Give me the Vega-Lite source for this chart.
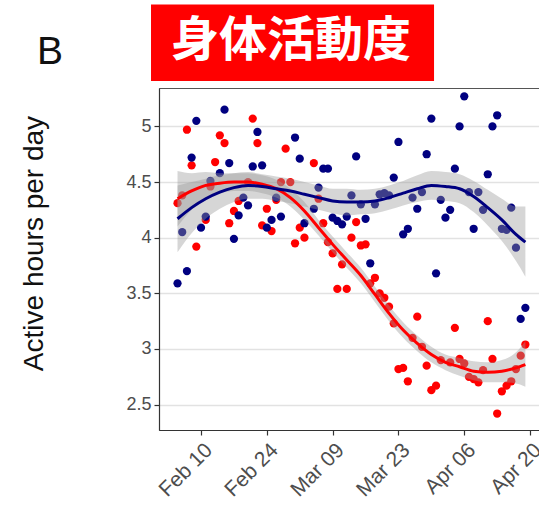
{
  "$schema": "https://vega.github.io/schema/vega-lite/v6.json",
  "width": 384,
  "height": 342,
  "autosize": {"type": "none"},
  "padding": {"left": 159, "top": 88, "right": 0, "bottom": 75},
  "background": "white",
  "config": {
    "view": {"stroke": "#555555", "strokeWidth": 1},
    "font": "Liberation Sans"
  },
  "datasets": {
    "points": [
      {"date": "2020-02-05", "group": "Group 1", "hours": 4.31},
      {"date": "2020-02-06", "group": "Group 1", "hours": 4.38},
      {"date": "2020-02-07", "group": "Group 1", "hours": 4.97},
      {"date": "2020-02-08", "group": "Group 1", "hours": 4.65},
      {"date": "2020-02-09", "group": "Group 1", "hours": 3.92},
      {"date": "2020-02-11", "group": "Group 1", "hours": 4.16},
      {"date": "2020-02-12", "group": "Group 1", "hours": 4.46},
      {"date": "2020-02-13", "group": "Group 1", "hours": 4.68},
      {"date": "2020-02-14", "group": "Group 1", "hours": 4.92},
      {"date": "2020-02-15", "group": "Group 1", "hours": 4.85},
      {"date": "2020-02-16", "group": "Group 1", "hours": 4.13},
      {"date": "2020-02-17", "group": "Group 1", "hours": 4.24},
      {"date": "2020-02-18", "group": "Group 1", "hours": 4.33},
      {"date": "2020-02-20", "group": "Group 1", "hours": 4.50},
      {"date": "2020-02-21", "group": "Group 1", "hours": 5.07},
      {"date": "2020-02-22", "group": "Group 1", "hours": 4.85},
      {"date": "2020-02-23", "group": "Group 1", "hours": 4.11},
      {"date": "2020-02-24", "group": "Group 1", "hours": 4.26},
      {"date": "2020-02-25", "group": "Group 1", "hours": 4.06},
      {"date": "2020-02-26", "group": "Group 1", "hours": 4.34},
      {"date": "2020-02-27", "group": "Group 1", "hours": 4.50},
      {"date": "2020-02-28", "group": "Group 1", "hours": 4.80},
      {"date": "2020-02-29", "group": "Group 1", "hours": 4.50},
      {"date": "2020-03-01", "group": "Group 1", "hours": 3.95},
      {"date": "2020-03-02", "group": "Group 1", "hours": 4.09},
      {"date": "2020-03-03", "group": "Group 1", "hours": 4.00},
      {"date": "2020-03-05", "group": "Group 1", "hours": 4.67},
      {"date": "2020-03-06", "group": "Group 1", "hours": 4.35},
      {"date": "2020-03-07", "group": "Group 1", "hours": 4.13},
      {"date": "2020-03-08", "group": "Group 1", "hours": 3.96},
      {"date": "2020-03-09", "group": "Group 1", "hours": 3.86},
      {"date": "2020-03-10", "group": "Group 1", "hours": 3.54},
      {"date": "2020-03-11", "group": "Group 1", "hours": 3.76},
      {"date": "2020-03-12", "group": "Group 1", "hours": 3.54},
      {"date": "2020-03-13", "group": "Group 1", "hours": 4.00},
      {"date": "2020-03-14", "group": "Group 1", "hours": 4.14},
      {"date": "2020-03-15", "group": "Group 1", "hours": 3.93},
      {"date": "2020-03-16", "group": "Group 1", "hours": 3.94},
      {"date": "2020-03-17", "group": "Group 1", "hours": 3.59},
      {"date": "2020-03-18", "group": "Group 1", "hours": 3.64},
      {"date": "2020-03-19", "group": "Group 1", "hours": 3.50},
      {"date": "2020-03-20", "group": "Group 1", "hours": 3.46},
      {"date": "2020-03-21", "group": "Group 1", "hours": 3.38},
      {"date": "2020-03-22", "group": "Group 1", "hours": 3.23},
      {"date": "2020-03-23", "group": "Group 1", "hours": 2.82},
      {"date": "2020-03-24", "group": "Group 1", "hours": 2.83},
      {"date": "2020-03-25", "group": "Group 1", "hours": 2.71},
      {"date": "2020-03-26", "group": "Group 1", "hours": 3.10},
      {"date": "2020-03-27", "group": "Group 1", "hours": 3.29},
      {"date": "2020-03-28", "group": "Group 1", "hours": 3.02},
      {"date": "2020-03-29", "group": "Group 1", "hours": 2.85},
      {"date": "2020-03-30", "group": "Group 1", "hours": 2.63},
      {"date": "2020-03-31", "group": "Group 1", "hours": 2.67},
      {"date": "2020-04-01", "group": "Group 1", "hours": 2.90},
      {"date": "2020-04-03", "group": "Group 1", "hours": 2.88},
      {"date": "2020-04-04", "group": "Group 1", "hours": 3.19},
      {"date": "2020-04-05", "group": "Group 1", "hours": 2.91},
      {"date": "2020-04-06", "group": "Group 1", "hours": 2.87},
      {"date": "2020-04-07", "group": "Group 1", "hours": 2.75},
      {"date": "2020-04-08", "group": "Group 1", "hours": 2.73},
      {"date": "2020-04-09", "group": "Group 1", "hours": 2.70},
      {"date": "2020-04-10", "group": "Group 1", "hours": 2.81},
      {"date": "2020-04-11", "group": "Group 1", "hours": 3.25},
      {"date": "2020-04-12", "group": "Group 1", "hours": 2.91},
      {"date": "2020-04-13", "group": "Group 1", "hours": 2.42},
      {"date": "2020-04-14", "group": "Group 1", "hours": 2.62},
      {"date": "2020-04-15", "group": "Group 1", "hours": 2.67},
      {"date": "2020-04-16", "group": "Group 1", "hours": 2.71},
      {"date": "2020-04-17", "group": "Group 1", "hours": 2.82},
      {"date": "2020-04-18", "group": "Group 1", "hours": 2.94},
      {"date": "2020-04-19", "group": "Group 1", "hours": 3.04},
      {"date": "2020-02-05", "group": "Group 2", "hours": 3.59},
      {"date": "2020-02-06", "group": "Group 2", "hours": 4.05},
      {"date": "2020-02-07", "group": "Group 2", "hours": 3.70},
      {"date": "2020-02-08", "group": "Group 2", "hours": 4.72},
      {"date": "2020-02-09", "group": "Group 2", "hours": 5.05},
      {"date": "2020-02-10", "group": "Group 2", "hours": 4.09},
      {"date": "2020-02-11", "group": "Group 2", "hours": 4.19},
      {"date": "2020-02-12", "group": "Group 2", "hours": 4.51},
      {"date": "2020-02-14", "group": "Group 2", "hours": 4.58},
      {"date": "2020-02-15", "group": "Group 2", "hours": 5.15},
      {"date": "2020-02-16", "group": "Group 2", "hours": 4.67},
      {"date": "2020-02-17", "group": "Group 2", "hours": 3.99},
      {"date": "2020-02-18", "group": "Group 2", "hours": 4.20},
      {"date": "2020-02-19", "group": "Group 2", "hours": 4.36},
      {"date": "2020-02-20", "group": "Group 2", "hours": 4.29},
      {"date": "2020-02-21", "group": "Group 2", "hours": 4.64},
      {"date": "2020-02-22", "group": "Group 2", "hours": 4.95},
      {"date": "2020-02-23", "group": "Group 2", "hours": 4.65},
      {"date": "2020-02-24", "group": "Group 2", "hours": 4.09},
      {"date": "2020-02-25", "group": "Group 2", "hours": 4.16},
      {"date": "2020-02-26", "group": "Group 2", "hours": 4.36},
      {"date": "2020-02-27", "group": "Group 2", "hours": 4.19},
      {"date": "2020-03-01", "group": "Group 2", "hours": 4.90},
      {"date": "2020-03-02", "group": "Group 2", "hours": 4.71},
      {"date": "2020-03-03", "group": "Group 2", "hours": 4.13},
      {"date": "2020-03-05", "group": "Group 2", "hours": 4.26},
      {"date": "2020-03-06", "group": "Group 2", "hours": 4.45},
      {"date": "2020-03-07", "group": "Group 2", "hours": 4.62},
      {"date": "2020-03-08", "group": "Group 2", "hours": 4.62},
      {"date": "2020-03-09", "group": "Group 2", "hours": 4.18},
      {"date": "2020-03-10", "group": "Group 2", "hours": 4.15},
      {"date": "2020-03-11", "group": "Group 2", "hours": 4.12},
      {"date": "2020-03-12", "group": "Group 2", "hours": 4.19},
      {"date": "2020-03-13", "group": "Group 2", "hours": 4.38},
      {"date": "2020-03-14", "group": "Group 2", "hours": 4.73},
      {"date": "2020-03-15", "group": "Group 2", "hours": 4.30},
      {"date": "2020-03-16", "group": "Group 2", "hours": 4.17},
      {"date": "2020-03-17", "group": "Group 2", "hours": 3.77},
      {"date": "2020-03-18", "group": "Group 2", "hours": 4.30},
      {"date": "2020-03-19", "group": "Group 2", "hours": 4.39},
      {"date": "2020-03-20", "group": "Group 2", "hours": 4.40},
      {"date": "2020-03-21", "group": "Group 2", "hours": 4.38},
      {"date": "2020-03-22", "group": "Group 2", "hours": 4.54},
      {"date": "2020-03-23", "group": "Group 2", "hours": 4.86},
      {"date": "2020-03-24", "group": "Group 2", "hours": 4.03},
      {"date": "2020-03-25", "group": "Group 2", "hours": 4.08},
      {"date": "2020-03-26", "group": "Group 2", "hours": 4.36},
      {"date": "2020-03-27", "group": "Group 2", "hours": 4.26},
      {"date": "2020-03-28", "group": "Group 2", "hours": 4.41},
      {"date": "2020-03-29", "group": "Group 2", "hours": 4.75},
      {"date": "2020-03-30", "group": "Group 2", "hours": 5.07},
      {"date": "2020-03-31", "group": "Group 2", "hours": 3.68},
      {"date": "2020-04-01", "group": "Group 2", "hours": 4.34},
      {"date": "2020-04-02", "group": "Group 2", "hours": 4.18},
      {"date": "2020-04-03", "group": "Group 2", "hours": 4.25},
      {"date": "2020-04-04", "group": "Group 2", "hours": 4.62},
      {"date": "2020-04-05", "group": "Group 2", "hours": 5.00},
      {"date": "2020-04-06", "group": "Group 2", "hours": 5.27},
      {"date": "2020-04-07", "group": "Group 2", "hours": 4.41},
      {"date": "2020-04-08", "group": "Group 2", "hours": 4.08},
      {"date": "2020-04-09", "group": "Group 2", "hours": 4.41},
      {"date": "2020-04-10", "group": "Group 2", "hours": 4.25},
      {"date": "2020-04-11", "group": "Group 2", "hours": 4.57},
      {"date": "2020-04-12", "group": "Group 2", "hours": 5.00},
      {"date": "2020-04-13", "group": "Group 2", "hours": 5.10},
      {"date": "2020-04-14", "group": "Group 2", "hours": 4.08},
      {"date": "2020-04-15", "group": "Group 2", "hours": 4.07},
      {"date": "2020-04-16", "group": "Group 2", "hours": 4.27},
      {"date": "2020-04-17", "group": "Group 2", "hours": 3.91},
      {"date": "2020-04-18", "group": "Group 2", "hours": 3.27},
      {"date": "2020-04-19", "group": "Group 2", "hours": 3.37}
    ],
    "smooth": [
      {"date": "2020-02-05", "group": "Group 1", "fit": 4.35, "lo": 4.10, "hi": 4.60},
      {"date": "2020-02-08", "group": "Group 1", "fit": 4.42, "lo": 4.25, "hi": 4.58},
      {"date": "2020-02-11", "group": "Group 1", "fit": 4.47, "lo": 4.35, "hi": 4.59},
      {"date": "2020-02-14", "group": "Group 1", "fit": 4.49, "lo": 4.40, "hi": 4.58},
      {"date": "2020-02-17", "group": "Group 1", "fit": 4.50, "lo": 4.42, "hi": 4.58},
      {"date": "2020-02-20", "group": "Group 1", "fit": 4.50, "lo": 4.42, "hi": 4.58},
      {"date": "2020-02-23", "group": "Group 1", "fit": 4.48, "lo": 4.40, "hi": 4.56},
      {"date": "2020-02-26", "group": "Group 1", "fit": 4.44, "lo": 4.36, "hi": 4.52},
      {"date": "2020-02-29", "group": "Group 1", "fit": 4.36, "lo": 4.28, "hi": 4.44},
      {"date": "2020-03-03", "group": "Group 1", "fit": 4.24, "lo": 4.16, "hi": 4.32},
      {"date": "2020-03-06", "group": "Group 1", "fit": 4.09, "lo": 4.02, "hi": 4.16},
      {"date": "2020-03-09", "group": "Group 1", "fit": 3.94, "lo": 3.87, "hi": 4.01},
      {"date": "2020-03-12", "group": "Group 1", "fit": 3.80, "lo": 3.73, "hi": 3.87},
      {"date": "2020-03-15", "group": "Group 1", "fit": 3.66, "lo": 3.59, "hi": 3.73},
      {"date": "2020-03-18", "group": "Group 1", "fit": 3.49, "lo": 3.42, "hi": 3.56},
      {"date": "2020-03-21", "group": "Group 1", "fit": 3.32, "lo": 3.25, "hi": 3.39},
      {"date": "2020-03-24", "group": "Group 1", "fit": 3.17, "lo": 3.10, "hi": 3.24},
      {"date": "2020-03-27", "group": "Group 1", "fit": 3.05, "lo": 2.98, "hi": 3.12},
      {"date": "2020-03-30", "group": "Group 1", "fit": 2.95, "lo": 2.88, "hi": 3.02},
      {"date": "2020-04-02", "group": "Group 1", "fit": 2.88, "lo": 2.81, "hi": 2.95},
      {"date": "2020-04-05", "group": "Group 1", "fit": 2.84, "lo": 2.76, "hi": 2.92},
      {"date": "2020-04-08", "group": "Group 1", "fit": 2.80, "lo": 2.72, "hi": 2.89},
      {"date": "2020-04-11", "group": "Group 1", "fit": 2.79, "lo": 2.70, "hi": 2.88},
      {"date": "2020-04-14", "group": "Group 1", "fit": 2.80, "lo": 2.70, "hi": 2.90},
      {"date": "2020-04-17", "group": "Group 1", "fit": 2.83, "lo": 2.69, "hi": 2.97},
      {"date": "2020-04-19", "group": "Group 1", "fit": 2.86, "lo": 2.66, "hi": 3.07},
      {"date": "2020-02-05", "group": "Group 2", "fit": 4.17, "lo": 3.87, "hi": 4.47},
      {"date": "2020-02-08", "group": "Group 2", "fit": 4.27, "lo": 4.04, "hi": 4.50},
      {"date": "2020-02-11", "group": "Group 2", "fit": 4.35, "lo": 4.17, "hi": 4.53},
      {"date": "2020-02-14", "group": "Group 2", "fit": 4.41, "lo": 4.26, "hi": 4.56},
      {"date": "2020-02-17", "group": "Group 2", "fit": 4.45, "lo": 4.32, "hi": 4.58},
      {"date": "2020-02-20", "group": "Group 2", "fit": 4.47, "lo": 4.35, "hi": 4.59},
      {"date": "2020-02-23", "group": "Group 2", "fit": 4.46, "lo": 4.35, "hi": 4.57},
      {"date": "2020-02-26", "group": "Group 2", "fit": 4.44, "lo": 4.33, "hi": 4.55},
      {"date": "2020-02-29", "group": "Group 2", "fit": 4.42, "lo": 4.31, "hi": 4.53},
      {"date": "2020-03-03", "group": "Group 2", "fit": 4.39, "lo": 4.28, "hi": 4.50},
      {"date": "2020-03-06", "group": "Group 2", "fit": 4.36, "lo": 4.25, "hi": 4.47},
      {"date": "2020-03-09", "group": "Group 2", "fit": 4.33, "lo": 4.22, "hi": 4.44},
      {"date": "2020-03-12", "group": "Group 2", "fit": 4.32, "lo": 4.20, "hi": 4.44},
      {"date": "2020-03-15", "group": "Group 2", "fit": 4.32, "lo": 4.21, "hi": 4.43},
      {"date": "2020-03-18", "group": "Group 2", "fit": 4.33, "lo": 4.22, "hi": 4.44},
      {"date": "2020-03-21", "group": "Group 2", "fit": 4.36, "lo": 4.25, "hi": 4.47},
      {"date": "2020-03-24", "group": "Group 2", "fit": 4.40, "lo": 4.29, "hi": 4.51},
      {"date": "2020-03-27", "group": "Group 2", "fit": 4.44, "lo": 4.32, "hi": 4.56},
      {"date": "2020-03-30", "group": "Group 2", "fit": 4.47, "lo": 4.34, "hi": 4.60},
      {"date": "2020-04-02", "group": "Group 2", "fit": 4.46, "lo": 4.33, "hi": 4.59},
      {"date": "2020-04-05", "group": "Group 2", "fit": 4.44, "lo": 4.31, "hi": 4.57},
      {"date": "2020-04-08", "group": "Group 2", "fit": 4.37, "lo": 4.23, "hi": 4.51},
      {"date": "2020-04-11", "group": "Group 2", "fit": 4.27, "lo": 4.11, "hi": 4.43},
      {"date": "2020-04-14", "group": "Group 2", "fit": 4.16, "lo": 3.97, "hi": 4.35},
      {"date": "2020-04-17", "group": "Group 2", "fit": 4.03, "lo": 3.79, "hi": 4.28},
      {"date": "2020-04-19", "group": "Group 2", "fit": 3.96, "lo": 3.65, "hi": 4.28}
    ]
  },
  "layer": [
    {
      "data": {"name": "points"},
      "mark": {"type": "circle", "size": 68, "opacity": 1},
      "encoding": {
        "x": {
          "field": "date",
          "type": "temporal",
          "title": null,
          "scale": {
            "type": "utc",
            "domain": [
              {"year": 2020, "month": 2, "date": 1, "hours": 1, "minutes": 26, "utc": true},
              {"year": 2020, "month": 4, "date": 22, "hours": 18, "utc": true}
            ]
          },
          "axis": {
            "values": [
              {"year": 2020, "month": 2, "date": 10, "utc": true},
              {"year": 2020, "month": 2, "date": 24, "utc": true},
              {"year": 2020, "month": 3, "date": 9, "utc": true},
              {"year": 2020, "month": 3, "date": 23, "utc": true},
              {"year": 2020, "month": 4, "date": 6, "utc": true},
              {"year": 2020, "month": 4, "date": 20, "utc": true}
            ],
            "labelExpr": "utcFormat(datum.value, '%b %d')",
            "grid": false,
            "labelAngle": -45,
            "labelAlign": "right",
            "labelBaseline": "top",
            "labelFontSize": 21,
            "labelColor": "#4d4d4d",
            "labelPadding": 4,
            "labelFont": "Liberation Sans",
            "tickSize": 5,
            "tickColor": "#333333",
            "tickWidth": 1.2,
            "domainColor": "#333333",
            "domainWidth": 1.2,
            "labelOverlap": false,
            "labelBound": false,
            "labelFlush": false
          }
        },
        "y": {
          "field": "hours",
          "type": "quantitative",
          "scale": {"domain": [2.272, 5.345], "nice": false, "zero": false},
          "axis": {
            "title": "Active hours per day",
            "titleFont": "Liberation Sans",
            "titleFontSize": 28,
            "titleFontWeight": "normal",
            "titleColor": "#111111",
            "titleX": -111,
            "titleY": 155,
            "titleAngle": 270,
            "titleBaseline": "bottom",
            "titleAlign": "center",
            "values": [2.5, 2.75, 3, 3.25, 3.5, 3.75, 4, 4.25, 4.5, 4.75, 5, 5.25],
            "format": "~g",
            "labelExpr": "datum.value * 2 == round(datum.value * 2) ? datum.label : ''",
            "labelFontSize": 18,
            "labelColor": "#4d4d4d",
            "labelFont": "Liberation Sans",
            "labelPadding": 3,
            "tickSize": 5,
            "tickColor": "#333333",
            "tickWidth": 1.2,
            "tickOpacity": {"condition": {"test": "datum.value * 2 != round(datum.value * 2)", "value": 0}, "value": 1},
            "grid": true,
            "gridColor": {"condition": {"test": "datum.value * 2 != round(datum.value * 2)", "value": "#f0f0f0"}, "value": "#e2e2e2"},
            "gridWidth": {"condition": {"test": "datum.value * 2 != round(datum.value * 2)", "value": 1}, "value": 1.6},
            "domainColor": "#333333",
            "domainWidth": 1.2
          }
        },
        "color": {
          "field": "group",
          "type": "nominal",
          "scale": {"domain": ["Group 1", "Group 2"], "range": ["#ff0000", "#000080"]},
          "legend": null
        }
      }
    },
    {
      "data": {"name": "smooth"},
      "mark": {"type": "area", "color": "#999999", "opacity": 0.4, "interpolate": "monotone"},
      "encoding": {
        "x": {"field": "date", "type": "temporal"},
        "y": {"field": "lo", "type": "quantitative"},
        "y2": {"field": "hi"},
        "detail": {"field": "group", "type": "nominal"}
      }
    },
    {
      "data": {"name": "smooth"},
      "mark": {"type": "line", "strokeWidth": 3, "interpolate": "monotone"},
      "encoding": {
        "x": {"field": "date", "type": "temporal"},
        "y": {"field": "fit", "type": "quantitative"},
        "color": {"field": "group", "type": "nominal", "legend": null}
      }
    },
    {
      "data": {"values": [{}]},
      "mark": {"type": "rect", "color": "#ff0000", "clip": false},
      "encoding": {
        "x": {"datum": {"year": 2020, "month": 1, "date": 30, "hours": 8, "minutes": 38, "utc": true}, "type": "temporal"},
        "x2": {"datum": {"year": 2020, "month": 3, "date": 30, "hours": 13, "minutes": 41, "utc": true}},
        "y": {"datum": 6.095, "type": "quantitative"},
        "y2": {"datum": 5.408}
      }
    },
    {
      "data": {"values": [{}]},
      "mark": {"type": "text", "text": "身体活動度", "font": "Noto Sans CJK JP", "fontWeight": "bold", "fontSize": 48, "color": "#ffffff", "align": "center", "baseline": "middle", "clip": false},
      "encoding": {
        "x": {"datum": {"year": 2020, "month": 2, "date": 29, "hours": 3, "minutes": 36, "utc": true}, "type": "temporal"},
        "y": {"datum": 5.76, "type": "quantitative"}
      }
    },
    {
      "data": {"values": [{}]},
      "mark": {"type": "text", "text": "B", "font": "Liberation Sans", "fontSize": 39, "color": "#111111", "align": "left", "baseline": "alphabetic", "clip": false},
      "encoding": {
        "x": {"datum": {"year": 2020, "month": 1, "date": 6, "hours": 2, "minutes": 40, "utc": true}, "type": "temporal"},
        "y": {"datum": 5.557, "type": "quantitative"}
      }
    }
  ]
}
